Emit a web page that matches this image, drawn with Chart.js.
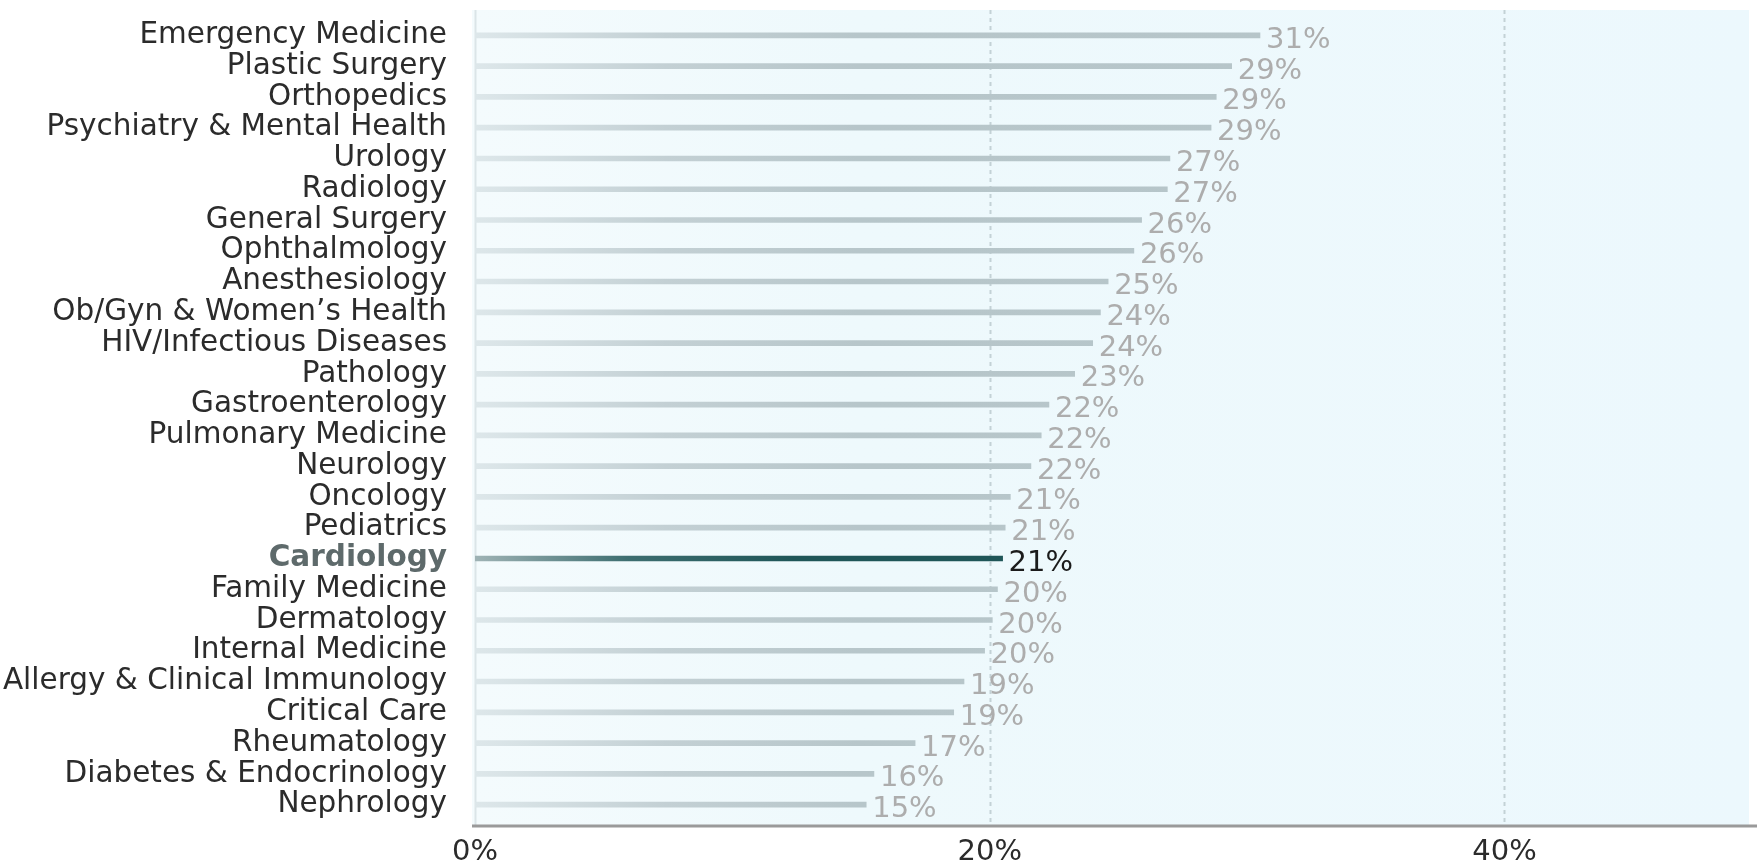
<!DOCTYPE html>
<html>
<head>
<meta charset="utf-8">
<script src="https://cdn.jsdelivr.net/npm/chart.js@4"></script>
<style>
  html, body { margin: 0; padding: 0; background: #fff; }
</style>
</head>
<body>
<canvas id="specialtyChart" width="1764" height="866"></canvas>
<script>
const specialties = [
  'Emergency Medicine', 'Plastic Surgery', 'Orthopedics', 'Psychiatry & Mental Health',
  'Urology', 'Radiology', 'General Surgery', 'Ophthalmology', 'Anesthesiology',
  'Ob/Gyn & Women\u2019s Health', 'HIV/Infectious Diseases', 'Pathology', 'Gastroenterology',
  'Pulmonary Medicine', 'Neurology', 'Oncology', 'Pediatrics', 'Cardiology',
  'Family Medicine', 'Dermatology', 'Internal Medicine', 'Allergy & Clinical Immunology',
  'Critical Care', 'Rheumatology', 'Diabetes & Endocrinology', 'Nephrology'
];
const rates = [
  30.5, 29.4, 28.8, 28.6, 27.0, 26.9, 25.9, 25.6, 24.6, 24.3, 24.0, 23.3, 22.3,
  22.0, 21.6, 20.8, 20.6, 20.5, 20.3, 20.1, 19.8, 19.0, 18.6, 17.1, 15.5, 15.2
];
const xTicks = [0, 20, 40];
const highlight = 'Cardiology';

const FONT = "'DejaVu Sans', sans-serif";

// light panel, dashed gridlines and the bottom axis line
const panel = {
  id: 'panel',
  beforeDraw(chart) {
    const { ctx, chartArea: a, scales: { x } } = chart;
    const top = a.top - 10, bottom = a.bottom + 5;
    ctx.save();
    const bg = ctx.createLinearGradient(a.left, 0, a.right, 0);
    bg.addColorStop(0, '#f4fbfd');
    bg.addColorStop(0.3, '#eef9fc');
    bg.addColorStop(1, '#ecf8fd');
    ctx.fillStyle = bg;
    ctx.fillRect(a.left - 3, top, a.right - a.left + 3, bottom - top);

    xTicks.forEach(v => {
      const px = Math.round(x.getPixelForValue(v)) + 0.5;
      ctx.strokeStyle = v === 0 ? '#dbe5e8' : '#c3d2d6';
      ctx.lineWidth = 2;
      ctx.setLineDash(v === 0 ? [] : [4, 4]);
      ctx.beginPath();
      ctx.moveTo(px, top);
      ctx.lineTo(px, bottom);
      ctx.stroke();
    });

    ctx.setLineDash([]);
    ctx.strokeStyle = '#9a9a9a';
    ctx.lineWidth = 3;
    ctx.beginPath();
    ctx.moveTo(a.left - 3, bottom + 1);
    ctx.lineTo(a.right + 8, bottom + 1);
    ctx.stroke();
    ctx.restore();
  }
};

// percentage labels at the end of every bar
const endLabels = {
  id: 'endLabels',
  afterDatasetsDraw(chart) {
    const { ctx } = chart;
    const meta = chart.getDatasetMeta(0);
    ctx.save();
    ctx.textAlign = 'left';
    ctx.textBaseline = 'middle';
    meta.data.forEach((bar, i) => {
      const on = specialties[i] === highlight;
      ctx.font = '29px ' + FONT;
      ctx.fillStyle = on ? '#1b1b1b' : '#adadad';
      ctx.fillText(Math.round(rates[i]) + '%', bar.x + 6, bar.y + 5);
    });
    ctx.restore();
  }
};

const ctx = document.getElementById('specialtyChart').getContext('2d');

function barColor(c) {
  const { chartArea } = c.chart;
  if (!chartArea) return '#b8c7cb';
  const on = specialties[c.dataIndex] === highlight;
  const g = c.chart.ctx.createLinearGradient(chartArea.left, 0, chartArea.right, 0);
  if (on) {
    g.addColorStop(0, '#9fb3b5');
    g.addColorStop(0.12, '#3d6e70');
    g.addColorStop(0.25, '#1f5658');
    g.addColorStop(1, '#1f5658');
  } else {
    g.addColorStop(0, '#dde7ea');
    g.addColorStop(0.15, '#c3d0d4');
    g.addColorStop(0.3, '#b7c6ca');
    g.addColorStop(1, '#b5c4c8');
  }
  return g;
}

const specialtyChart = new Chart(ctx, {
  type: 'bar',
  data: {
    labels: specialties,
    datasets: [{
      data: rates,
      backgroundColor: barColor,
      borderWidth: 0,
      barThickness: c => specialties[c.dataIndex] === highlight ? 6 : 5
    }]
  },
  options: {
    indexAxis: 'y',
    responsive: false,
    animation: false,
    layout: { padding: { top: 20, right: 15, left: 0, bottom: 0 } },
    plugins: {
      legend: { display: false },
      tooltip: { enabled: false }
    },
    scales: {
      x: {
        type: 'linear',
        min: 0,
        max: 49.5,
        afterBuildTicks: s => { s.ticks = xTicks.map(v => ({ value: v })); },
        afterFit: s => { s.height = 46; },
        grid: { display: false },
        border: { display: false },
        ticks: {
          padding: 7,
          color: '#2b2b2b',
          font: { family: FONT, size: 29 },
          callback: v => v + '%'
        }
      },
      y: {
        afterFit: s => { s.width = 475; s.paddingTop = 0; s.paddingBottom = 0; },
        grid: { display: false },
        border: { display: false },
        ticks: {
          padding: 20,
          autoSkip: false,
          color: c => specialties[c.index] === highlight ? '#5e6a6b' : '#2b2b2b',
          font: c => ({
            family: FONT,
            size: 29.5,
            weight: specialties[c.index] === highlight ? 'bold' : 'normal'
          })
        }
      }
    }
  },
  plugins: [panel, endLabels]
});
</script>
</body>
</html>
